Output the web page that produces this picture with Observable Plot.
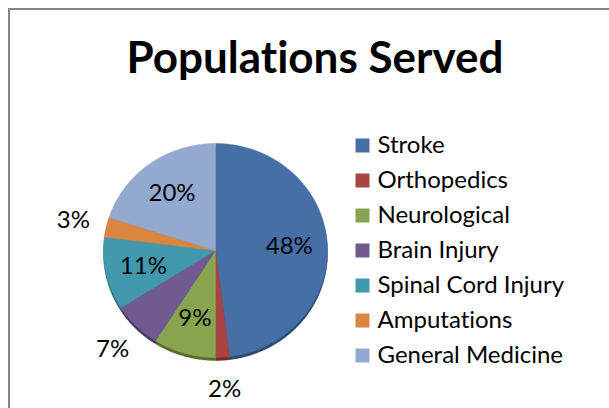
<!DOCTYPE html>
<html><head><meta charset="utf-8">
<script src="https://cdn.jsdelivr.net/npm/d3@7"></script>
<script src="https://cdn.jsdelivr.net/npm/@observablehq/plot@0.6"></script>
<style>
body{margin:0;background:#fff;font-family:Lato,sans-serif;overflow:hidden;font-variant-ligatures:none;font-feature-settings:"liga" 0,"clig" 0;}
svg text{font-variant-ligatures:none;font-feature-settings:"liga" 0,"clig" 0;}
#frame{position:absolute;left:8px;top:8px;width:640px;height:440px;border-left:2px solid #868686;border-top:2px solid #868686;}
#title{position:absolute;left:0;top:30px;width:630px;text-align:center;font-weight:bold;font-size:44px;line-height:53px;font-family:Lato,sans-serif;color:#000;}
#pie{position:absolute;left:0;top:0;}
#legend{position:absolute;left:340px;top:120px;}
</style></head><body>
<div id="frame"></div>
<div id="title">Populations Served</div>
<div id="pie"></div>
<div id="legend"></div>
<script>
const categories = ["Stroke","Orthopedics","Neurological","Brain Injury","Spinal Cord Injury","Amputations","General Medicine"];
const values = [48, 2, 9, 7, 11, 3, 20];
const colors = ["#4670A5","#A94442","#88A44E","#705A8F","#4299AE","#DA8540","#94A9CF"];

const data = categories.map((cat, i) => ({cat, value: values[i]}));
const arcs = d3.pie().sort(null).value(d => d.value)(data);

const pts = [];
for (const a of arcs) {
  const cat = a.data.cat;
  const n = Math.max(3, Math.ceil((a.endAngle - a.startAngle) / (Math.PI / 360)));
  pts.push({cat, x: 0, y: 0});
  for (let i = 0; i <= n; i++) {
    const t = a.startAngle + (a.endAngle - a.startAngle) * i / n;
    pts.push({cat, x: Math.sin(t), y: Math.cos(t)});
  }
  pts.push({cat, x: 0, y: 0});
}

const labels = arcs.map(a => {
  const mid = (a.startAngle + a.endAngle) / 2;
  const outside = a.data.value < 8;
  const r = outside ? 1.3 : 0.66;
  return {text: a.data.value + "%", x: r * Math.sin(mid), y: r * Math.cos(mid)};
});

const colorScale = {domain: categories, range: colors};

const pie = Plot.plot({
  width: 609, height: 408,
  margin: 0,
  x: {domain: [-1, 1], range: [103, 327], axis: null},
  y: {domain: [-1, 1], range: [357, 143], axis: null},
  color: colorScale,
  style: {background: "transparent", overflow: "visible"},
  marks: [
    Plot.line(pts, {x: "x", y: "y", z: "cat", fill: "cat", stroke: "cat", strokeWidth: 0.5, dy: 3, curve: "linear"}),
    Plot.line(pts, {x: "x", y: "y", z: "cat", fill: "black", fillOpacity: 0.35, stroke: null, dy: 3, curve: "linear"}),
    Plot.line(pts, {x: "x", y: "y", z: "cat", fill: "cat", stroke: "cat", strokeWidth: 0.5, curve: "linear"}),
    Plot.text(labels, {x: "x", y: "y", text: "text", fontSize: 24, fill: "#000", fontFamily: "Lato"})
  ]
});
document.getElementById("pie").appendChild(pie);

const legend = Plot.plot({
  width: 269, height: 260,
  margin: 0,
  y: {type: "point", domain: categories, range: [24, 235], padding: 0, axis: null},
  color: colorScale,
  style: {background: "transparent", overflow: "visible"},
  marks: [
    Plot.dot(data, {y: "cat", frameAnchor: "left", dx: 22, symbol: "square", r: 7.9, fill: "cat", stroke: null}),
    Plot.text(data, {y: "cat", text: "cat", frameAnchor: "left", dx: 37, textAnchor: "start", fontSize: 24, fill: "#000", fontFamily: "Lato"})
  ]
});
document.getElementById("legend").appendChild(legend);
</script>
</body></html>
